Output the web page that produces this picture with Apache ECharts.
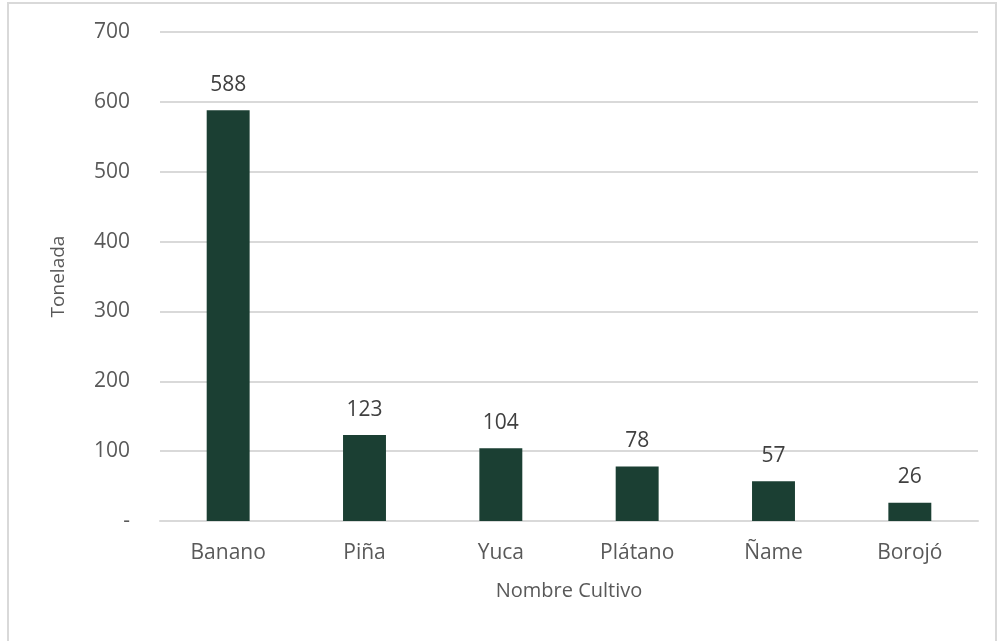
<!DOCTYPE html>
<html>
<head>
<meta charset="utf-8">
<script src="https://cdn.jsdelivr.net/npm/echarts@6/dist/echarts.min.js"></script>
<style>
  html, body { margin: 0; padding: 0; background: #fff; }
  #chart { position: absolute; left: 7px; top: 2px; width: 990px; height: 650px; border: 2px solid #d9d9d9; box-sizing: border-box; }
</style>
</head>
<body>
<div id="chart"></div>
<script>
// datos del gráfico
const cultivos = ['Banano', 'Piña', 'Yuca', 'Plátano', 'Ñame', 'Borojó'];
const toneladas = [588, 123, 104, 78, 57, 26];
const yTicks = [0, 100, 200, 300, 400, 500, 600, 700];

let chartDom = document.getElementById('chart');
let myChart = echarts.init(chartDom);
let option = {
  animation: false,
  textStyle: { fontFamily: 'Open Sans' },
  grid: { left: 151, right: 17, top: 28, bottom: 129 },
  xAxis: {
    type: 'category',
    data: cultivos,
    name: 'Nombre Cultivo',
    nameLocation: 'middle',
    nameGap: 60,
    nameTextStyle: { color: '#595959', fontSize: 20 },
    axisLine: { lineStyle: { color: '#d9d9d9', width: 2 } },
    axisTick: { show: false },
    axisLabel: { color: '#595959', fontSize: 21, margin: 22 }
  },
  yAxis: {
    type: 'value',
    min: yTicks[0],
    max: yTicks[yTicks.length - 1],
    interval: 100,
    name: 'Tonelada',
    nameLocation: 'middle',
    nameGap: 92,
    nameTextStyle: { color: '#595959', fontSize: 19 },
    axisLine: { show: false },
    axisTick: { show: false },
    splitLine: { lineStyle: { color: '#d9d9d9', width: 2 } },
    axisLabel: {
      color: '#595959', fontSize: 21, margin: 30,
      formatter: v => v === 0 ? '-' : String(v)
    }
  },
  series: [{
    type: 'bar',
    data: toneladas,
    barWidth: '31.5%',
    itemStyle: { color: '#1b3f33' },
    label: { show: true, position: 'top', distance: 15, color: '#404040', fontSize: 21 }
  }]
};
option && myChart.setOption(option);
</script>
</body>
</html>
